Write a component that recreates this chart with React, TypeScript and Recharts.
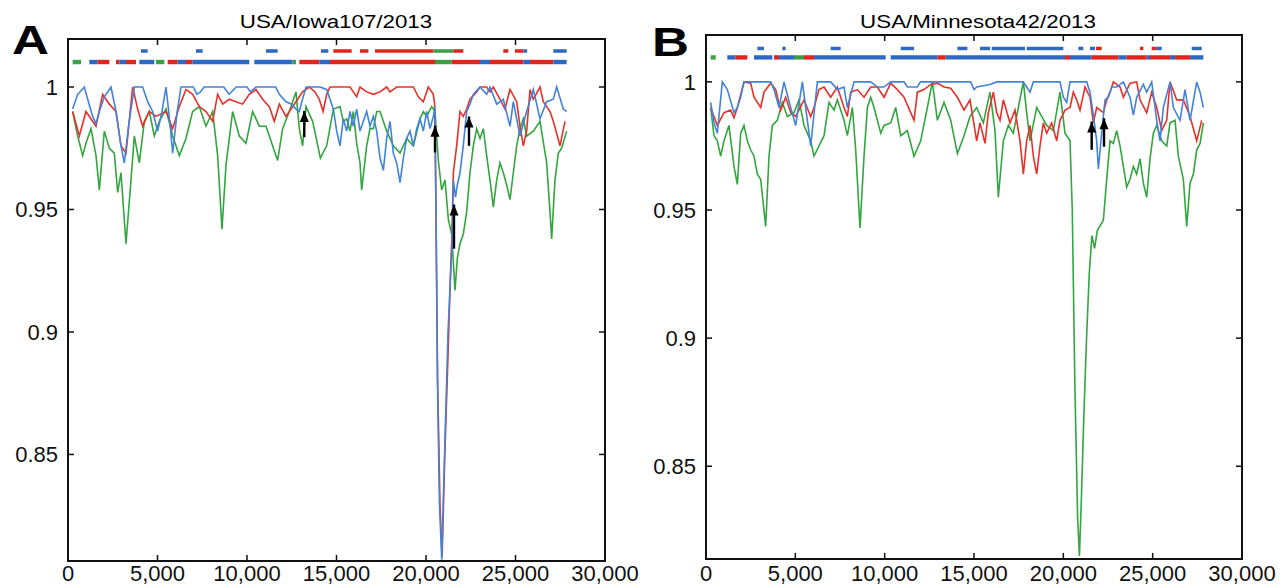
import React from "react";
import {
  LineChart,
  Line,
  XAxis,
  YAxis,
  ReferenceArea,
  ReferenceLine,
  ReferenceDot,
} from "recharts";

type Pt = [number, number];
type Seg = [number, number, "r" | "b" | "g"];

// axis ticks shared by both panels
const xTicks = [0, 5000, 10000, 15000, 20000, 25000, 30000];
const yTicks = [0.85, 0.9, 0.95, 1];

const titleA = "USA/Iowa107/2013";
const titleB = "USA/Minnesota42/2013";

// ---- Panel A: similarity lines [position, similarity]
const blueA: Pt[] = [
  [260, 0.991], [540, 0.997], [912, 1.0], [1100, 0.995], [1378, 0.988], [1564, 0.985], [1750, 0.99],
  [2029, 0.996], [2402, 1.0], [2681, 0.99], [2960, 0.976], [3146, 0.969], [3400, 0.985], [3705, 1.0],
  [4170, 1.0], [4450, 0.994], [4729, 0.99], [5008, 0.982], [5250, 0.99], [5474, 1.0], [5700, 0.985],
  [5846, 0.973], [6100, 0.99], [6312, 1.0], [7000, 1.0], [7200, 0.997], [7400, 0.998], [7600, 1.0],
  [8700, 1.0], [9000, 0.997], [9400, 1.0], [10000, 1.0], [10200, 0.998], [10500, 1.0], [11600, 1.0],
  [11805, 0.997], [12177, 0.994], [12500, 0.993], [12736, 0.991], [12922, 0.99], [13100, 0.995],
  [13300, 1.0], [14079, 1.0], [14451, 0.999], [14824, 0.991], [15010, 0.982], [15196, 0.976],
  [15382, 0.987], [15569, 0.982], [15755, 0.99], [15941, 0.984], [16127, 0.991], [16313, 0.982],
  [16500, 0.986], [16686, 0.99], [16872, 0.984], [17058, 0.988], [17245, 0.982], [17431, 0.971],
  [17617, 0.966], [17803, 0.979], [17989, 0.986], [18175, 0.973], [18362, 0.969], [18548, 0.961],
  [18734, 0.971], [18920, 0.979], [19106, 0.982], [19293, 0.976], [19479, 0.983], [19665, 0.987],
  [19851, 0.982], [20037, 0.99], [20224, 0.983], [20410, 0.988], [20503, 0.992], [20560, 0.95],
  [20640, 0.88], [20750, 0.83], [20880, 0.807], [21000, 0.84], [21230, 0.9], [21450, 0.935],
  [21530, 0.962], [21650, 0.955], [21750, 0.96], [21900, 0.965], [22080, 0.976], [22272, 0.99],
  [22458, 0.993], [22644, 0.997], [23017, 1.0], [23389, 0.997], [23575, 1.0], [23948, 0.993],
  [24320, 0.995], [24692, 0.984], [24879, 0.994], [25251, 0.98], [25623, 0.99], [25996, 0.999],
  [26368, 0.987], [26741, 0.994], [27113, 0.995], [27299, 1.0], [27672, 0.991], [27858, 0.99],
];

const redA: Pt[] = [
  [260, 0.99], [633, 0.98], [1005, 0.99], [1564, 0.984], [1936, 0.997], [2309, 0.993], [2681, 0.99],
  [2960, 0.976], [3240, 0.973], [3612, 1.0], [3891, 0.991], [4170, 0.984], [4543, 0.99], [4915, 0.988],
  [5474, 0.99], [5846, 0.983], [6219, 0.992], [6591, 0.999], [6964, 0.997], [7336, 0.992], [7708, 0.99],
  [8081, 0.986], [8360, 0.997], [8640, 0.993], [9012, 0.995], [9384, 0.994], [9757, 0.993],
  [10129, 0.997], [10501, 0.999], [10874, 0.995], [11246, 0.992], [11526, 0.986], [11805, 0.993],
  [12177, 0.988], [12736, 0.994], [13108, 0.998], [13481, 1.0], [13800, 0.998], [14039, 0.995],
  [14250, 0.99], [14451, 0.997], [14637, 1.0], [15755, 1.0], [15941, 0.998], [16127, 0.996],
  [16313, 1.0], [16686, 0.998], [17058, 0.997], [17431, 0.998], [17803, 1.0], [17989, 0.998],
  [18362, 1.0], [19293, 1.0], [19572, 0.996], [19851, 0.994], [20130, 1.0], [20410, 0.997],
  [20480, 0.993], [20540, 0.96], [20650, 0.88], [20780, 0.83], [20900, 0.808], [21050, 0.85],
  [21250, 0.895], [21350, 0.92], [21450, 0.94], [21527, 0.965], [21713, 0.976], [21899, 0.99],
  [22086, 0.988], [22272, 0.991], [22458, 0.995], [22830, 0.998], [23017, 1.0], [23389, 1.0],
  [23575, 0.998], [23761, 1.0], [24134, 0.995], [24413, 0.991], [24692, 0.999], [25065, 0.994],
  [25251, 0.984], [25437, 0.976], [25623, 0.982], [25810, 0.999], [25996, 0.995], [26368, 1.0],
  [26555, 0.994], [26927, 0.99], [27113, 0.986], [27485, 0.976], [27765, 0.986],
];

const greenA: Pt[] = [
  [260, 0.99], [540, 0.98], [819, 0.972], [1005, 0.977], [1285, 0.983], [1564, 0.972], [1750, 0.958],
  [2029, 0.982], [2309, 0.975], [2588, 0.973], [2774, 0.957], [2960, 0.965], [3240, 0.936],
  [3519, 0.962], [3705, 0.98], [3984, 0.969], [4264, 0.986], [4543, 0.99], [4822, 0.98], [5102, 0.986],
  [5474, 0.991], [5846, 0.98], [6219, 0.972], [6591, 0.979], [6964, 0.99], [7336, 0.992], [7708, 0.984],
  [8081, 0.99], [8360, 0.972], [8602, 0.942], [8826, 0.968], [9198, 0.99], [9570, 0.98], [9943, 0.977],
  [10315, 0.99], [10688, 0.984], [11060, 0.984], [11432, 0.976], [11712, 0.97], [11991, 0.983],
  [12363, 0.99], [12736, 0.998], [12922, 0.983], [13108, 0.976], [13294, 0.992], [13667, 0.986],
  [14100, 0.971], [14451, 0.976], [14824, 0.991], [15196, 0.992], [15382, 0.986], [15569, 0.987],
  [15755, 0.982], [15941, 0.99], [16127, 0.977], [16313, 0.969], [16406, 0.958], [16686, 0.976],
  [16872, 0.983], [17058, 0.983], [17245, 0.99], [17431, 0.99], [17617, 0.986], [17803, 0.982],
  [18175, 0.976], [18548, 0.973], [18920, 0.979], [19293, 0.976], [19665, 0.987], [19851, 0.99],
  [20037, 0.988], [20317, 0.992], [20503, 0.99], [20689, 0.97], [20875, 0.958], [21062, 0.962],
  [21248, 0.946], [21434, 0.94], [21620, 0.917], [21750, 0.93], [21899, 0.936], [22086, 0.94],
  [22272, 0.949], [22458, 0.965], [22644, 0.976], [22830, 0.983], [23017, 0.979], [23203, 0.983],
  [23389, 0.972], [23575, 0.962], [23761, 0.951], [23948, 0.962], [24134, 0.969], [24320, 0.965],
  [24506, 0.96], [24692, 0.954], [24879, 0.965], [25065, 0.976], [25251, 0.983], [25437, 0.987],
  [25623, 0.98], [25996, 0.982], [26368, 0.986], [26741, 0.969], [26927, 0.949], [27020, 0.938],
  [27206, 0.962], [27392, 0.973], [27579, 0.975], [27858, 0.982],
];

// ---- Panel B
const blueB: Pt[] = [
  [261, 0.992], [448, 0.984], [634, 0.98], [914, 1.0], [1194, 0.997], [1567, 0.988], [1754, 0.99],
  [1941, 0.994], [2127, 1.0], [3620, 1.0], [3807, 0.997], [4086, 0.99], [4366, 1.0], [4740, 0.99],
  [5020, 0.983], [5393, 1.0], [5673, 0.985], [5859, 0.975], [6232, 1.0], [6979, 1.0], [7352, 0.997],
  [7725, 0.998], [7912, 0.99], [8285, 1.0], [9218, 1.0], [9591, 0.998], [9964, 0.998], [10338, 1.0],
  [11084, 1.0], [11270, 0.998], [11830, 0.998], [12000, 1.0], [14816, 1.0], [15003, 0.997],
  [15149, 0.998], [15896, 0.999], [16269, 1.0], [17762, 1.0], [17948, 0.998], [18135, 0.996],
  [18322, 1.0], [19814, 1.0], [20001, 0.994], [20187, 0.992], [20374, 1.0], [21307, 1.0],
  [21494, 0.996], [21680, 0.987], [21867, 0.977], [21960, 0.966], [22147, 0.98], [22333, 0.993],
  [22520, 0.994], [22707, 0.998], [22986, 0.998], [23360, 1.0], [23733, 0.994], [23920, 0.987],
  [24106, 0.994], [24479, 0.999], [24666, 0.996], [24946, 1.0], [25226, 0.985], [25412, 0.977],
  [25599, 0.99], [25972, 1.0], [26159, 0.99], [26532, 0.985], [26811, 0.997], [27092, 0.985],
  [27465, 1.0], [27652, 0.996], [27838, 0.99],
];

const redB: Pt[] = [
  [261, 0.99], [634, 0.983], [1008, 0.988], [1381, 0.989], [1567, 0.986], [1754, 0.99], [2127, 1.0],
  [2500, 0.9995], [2687, 0.994], [3060, 0.99], [3247, 0.996], [3620, 0.9995], [3900, 0.997],
  [4180, 0.989], [4459, 0.994], [4740, 0.988], [5020, 0.9865], [5486, 0.993], [5859, 0.9865],
  [6046, 0.99], [6326, 0.997], [6606, 0.998], [6979, 0.994], [7352, 0.998], [7725, 0.99],
  [7912, 0.9865], [8098, 0.996], [8472, 0.997], [8845, 0.994], [9218, 0.998], [9591, 0.998],
  [9964, 0.994], [10338, 0.9995], [10711, 0.997], [11084, 0.994], [11457, 0.988], [11644, 0.985],
  [11830, 0.996], [12204, 0.997], [12577, 0.999], [12950, 0.9995], [13323, 0.998], [13697, 0.9975],
  [14070, 0.994], [14443, 0.989], [14776, 0.993], [14963, 0.985], [15149, 0.977], [15336, 0.984],
  [15616, 0.976], [15802, 0.988], [16082, 0.996], [16269, 0.988], [16456, 0.985], [16642, 0.993],
  [17015, 0.984], [17295, 0.989], [17575, 0.977], [17762, 0.964], [17948, 0.977], [18135, 0.983],
  [18322, 0.971], [18508, 0.964], [18695, 0.975], [18881, 0.984], [19068, 0.98], [19348, 0.984],
  [19628, 0.977], [19814, 0.985], [20094, 0.989], [20374, 0.99], [20561, 0.996], [20747, 0.993],
  [20934, 0.989], [21214, 0.998], [21494, 0.994], [21680, 0.984], [21867, 0.99], [22054, 0.989],
  [22240, 0.988], [22427, 0.993], [22613, 0.996], [22800, 1.0], [23173, 0.998], [23360, 0.994],
  [23733, 0.9995], [24106, 1.0], [24293, 0.993], [24666, 0.988], [24946, 0.996], [25226, 0.99],
  [25506, 0.981], [25786, 0.985], [25972, 1.0], [26345, 0.993], [26718, 0.993], [27092, 0.9865],
  [27465, 0.977], [27745, 0.985],
];

const greenB: Pt[] = [
  [261, 0.99], [448, 0.979], [634, 0.977], [821, 0.971], [1008, 0.977], [1287, 0.983], [1567, 0.967],
  [1754, 0.96], [1941, 0.98], [2127, 0.983], [2314, 0.977], [2500, 0.9735], [2687, 0.971],
  [2874, 0.964], [3060, 0.962], [3340, 0.9436], [3527, 0.971], [3713, 0.983], [3993, 0.985],
  [4273, 0.992], [4553, 0.9865], [4926, 0.988], [5206, 0.993], [5486, 0.983], [5859, 0.977],
  [6046, 0.971], [6326, 0.975], [6606, 0.979], [6886, 0.992], [7166, 0.989], [7352, 0.993],
  [7725, 0.985], [7912, 0.979], [8192, 0.99], [8378, 0.9735], [8621, 0.943], [8845, 0.971],
  [9032, 0.99], [9218, 0.994], [9405, 0.99], [9778, 0.98], [9964, 0.983], [10338, 0.984],
  [10618, 0.99], [10898, 0.979], [11271, 0.981], [11644, 0.971], [12017, 0.977], [12390, 0.99],
  [12670, 1.0], [12950, 0.985], [13323, 0.992], [13697, 0.985], [14070, 0.972], [14443, 0.979],
  [14776, 0.9865], [15149, 0.99], [15522, 0.984], [15896, 0.996], [16176, 0.981], [16362, 0.955],
  [16642, 0.977], [16922, 0.983], [17202, 0.98], [17482, 0.99], [17762, 1.0], [17948, 0.988],
  [18135, 0.977], [18508, 0.99], [18788, 0.9865], [19068, 0.983], [19441, 0.981], [19814, 0.996],
  [20094, 0.98], [20374, 0.977], [20500, 0.95], [20650, 0.88], [20800, 0.83], [20900, 0.815],
  [21000, 0.835], [21150, 0.87], [21300, 0.9], [21450, 0.925], [21600, 0.94], [21750, 0.935],
  [21900, 0.942], [22240, 0.946], [22427, 0.962], [22613, 0.977], [22800, 0.976], [22986, 0.981],
  [23173, 0.975], [23360, 0.967], [23546, 0.959], [23733, 0.962], [23920, 0.967], [24106, 0.964],
  [24293, 0.97], [24479, 0.9605], [24666, 0.955], [24852, 0.97], [25039, 0.98], [25226, 0.983],
  [25506, 0.977], [25786, 0.975], [25972, 0.984], [26252, 0.985], [26438, 0.971], [26718, 0.962],
  [26905, 0.9436], [27092, 0.9605], [27278, 0.964], [27465, 0.9735], [27652, 0.976], [27838, 0.984],
];

// ---- top indicator bars [start, end, colour]
const lowerBarsA: Seg[] = [
  [260, 726, "g"], [1192, 1657, "b"], [1657, 2309, "r"], [2681, 2867, "r"], [2867, 3240, "b"],
  [3240, 3800, "r"], [3984, 4822, "b"], [4915, 5380, "g"], [5567, 6126, "r"], [6126, 6591, "b"],
  [6591, 6964, "r"], [6964, 10129, "b"], [10408, 12550, "b"], [12550, 12736, "g"], [12922, 14039, "r"],
  [14039, 14637, "b"], [14637, 20503, "r"], [20503, 21434, "g"], [21434, 23017, "r"], [23017, 23575, "b"],
  [23575, 25437, "r"], [25437, 25810, "b"], [25810, 27113, "r"], [27113, 27858, "b"],
];
const upperBarsA: Seg[] = [
  [4077, 4450, "b"], [7150, 7522, "b"], [11060, 11712, "b"], [14132, 14545, "b"], [14824, 15848, "r"],
  [16313, 16779, "r"], [17151, 20410, "r"], [20410, 21527, "g"], [21527, 22086, "r"], [24320, 24600, "r"],
  [24972, 25437, "r"], [25437, 25650, "b"], [27113, 27858, "b"],
];
const lowerBarsB: Seg[] = [
  [261, 541, "g"], [1194, 1661, "b"], [1661, 2314, "r"], [2687, 3713, "b"], [3806, 4086, "r"],
  [4086, 4926, "b"], [4926, 5486, "g"], [5486, 6046, "r"], [6046, 10058, "b"], [10338, 12950, "b"],
  [12950, 13417, "r"], [13417, 20094, "b"], [20094, 20374, "r"], [20374, 21587, "b"], [21587, 23080, "r"],
  [23080, 23546, "b"], [23546, 24666, "r"], [24666, 24852, "b"], [24852, 25972, "r"], [25972, 26252, "b"],
  [26252, 27092, "r"], [27092, 27838, "b"],
];
const upperBarsB: Seg[] = [
  [2874, 3247, "b"], [4273, 4459, "b"], [6979, 7538, "b"], [10898, 11644, "b"], [14070, 14630, "b"],
  [15336, 15896, "b"], [15989, 17855, "b"], [17948, 20001, "b"], [20841, 21120, "b"], [21494, 21773, "b"],
  [21830, 22147, "r"], [24293, 24479, "r"], [24946, 25226, "r"], [25226, 25506, "b"], [27185, 27745, "b"],
];

// ---- arrows [position, head, tail]
const arrowsA: [number, number, number][] = [
  [13200, 0.9902, 0.9795], [20503, 0.9842, 0.9733], [21564, 0.952, 0.934], [22402, 0.988, 0.976],
];
const arrowsB: [number, number, number][] = [
  [21587, 0.9845, 0.9735], [22277, 0.9858, 0.9747],
];

const LINE = { r: "#e8302a", b: "#4383d8", g: "#33a63f" };
const BAR = { r: "#e3231d", b: "#2c68c4", g: "#3aa048" };
const FONT = "'Liberation Sans', Arial, sans-serif";
const X_MAX = 30000;

const rows = (pts: Pt[]) => pts.map(([x, y]) => ({ x, y }));

const ArrowHead = (p: any) => (
  <path d={`M${p.cx},${p.cy} L${p.cx - 4.5},${p.cy + 11} L${p.cx + 4.5},${p.cy + 11} Z`} fill="#000" />
);

function Panel(props: any) {
  const { width, margin, yDomain, green, red, blue, lower, upper, lowerY, upperY, halfH, arrows, xMargin, plotH } = props;
  const [y0, y1] = yDomain;
  // inner tick length of ~6px expressed in each axis' units
  const xLen = (X_MAX * 6) / (width - margin.left - margin.right - 60);
  const yLen = ((y1 - y0) * 6) / plotH;
  const axisLine = { stroke: "#111", strokeWidth: 2 };
  const tickLine = { stroke: "#111", strokeWidth: 1.5 };
  const tickStyle = { fill: "#111", fontSize: 22, fontFamily: FONT };
  return (
    <LineChart width={width} height={587} margin={margin}>
      <XAxis
        dataKey="x" type="number" domain={[0, X_MAX]} ticks={xTicks} allowDataOverflow interval={0}
        height={20} tickSize={-6} tickMargin={xMargin} axisLine={axisLine} tickLine={tickLine} tick={tickStyle}
        tickFormatter={(v: number) => v.toLocaleString("en-US")}
      />
      <YAxis
        type="number" domain={yDomain} ticks={yTicks} allowDataOverflow interval={0} width={60}
        tickSize={-6} tickMargin={16} axisLine={axisLine} tickLine={tickLine} tick={tickStyle}
      />
      {lower.map(([a, b, c]: Seg, i: number) => (
        <ReferenceArea key={`l${i}`} x1={a} x2={b} y1={lowerY - halfH} y2={lowerY + halfH}
          fill={BAR[c]} fillOpacity={1} stroke="none" ifOverflow="visible" />
      ))}
      {upper.map(([a, b, c]: Seg, i: number) => (
        <ReferenceArea key={`u${i}`} x1={a} x2={b} y1={upperY - halfH * 0.8} y2={upperY + halfH * 0.8}
          fill={BAR[c]} fillOpacity={1} stroke="none" ifOverflow="visible" />
      ))}
      <ReferenceArea x1={0} x2={X_MAX} y1={y0} y2={y1} fill="none" fillOpacity={0}
        stroke="#111" strokeWidth={2} ifOverflow="visible" />
      {xTicks.slice(1, -1).map((t) => (
        <ReferenceLine key={`tt${t}`} segment={[{ x: t, y: y1 }, { x: t, y: y1 - yLen }]}
          stroke="#111" strokeWidth={1.5} ifOverflow="visible" />
      ))}
      {yTicks.map((t) => (
        <ReferenceLine key={`rt${t}`} segment={[{ x: X_MAX, y: t }, { x: X_MAX - xLen, y: t }]}
          stroke="#111" strokeWidth={1.5} ifOverflow="visible" />
      ))}
      <Line data={rows(green)} dataKey="y" type="linear" stroke={LINE.g} strokeWidth={1.6} dot={false} isAnimationActive={false} />
      <Line data={rows(red)} dataKey="y" type="linear" stroke={LINE.r} strokeWidth={1.6} dot={false} isAnimationActive={false} />
      <Line data={rows(blue)} dataKey="y" type="linear" stroke={LINE.b} strokeWidth={1.6} dot={false} isAnimationActive={false} />
      {arrows.map(([x, h, t]: number[], i: number) => (
        <ReferenceLine key={`as${i}`} segment={[{ x, y: t }, { x, y: h }]} stroke="#000" strokeWidth={2.4} ifOverflow="visible" />
      ))}
      {arrows.map(([x, h]: number[], i: number) => (
        <ReferenceDot key={`ah${i}`} x={x} y={h} r={0} shape={ArrowHead} ifOverflow="visible" />
      ))}
    </LineChart>
  );
}

const abs = (s: React.CSSProperties): React.CSSProperties => ({ position: "absolute", ...s });

export default function App() {
  return (
    <div style={abs({ left: 0, top: 0, width: 1286, height: 587, background: "#fff", fontFamily: FONT })}>
      <div style={abs({ left: 0, top: 0 })}>
        <Panel
          width={645}
          margin={{ top: 39, right: 40, bottom: 6, left: 8 }}
          plotH={522}
          yDomain={[0.8065, 1.0196]}
          green={greenA} red={redA} blue={blueA}
          lower={lowerBarsA} upper={upperBarsA}
          lowerY={1.0102} upperY={1.0147} halfH={0.0009}
          arrows={arrowsA} xMargin={10}
        />
      </div>
      <div style={abs({ left: 641, top: 0 })}>
        <Panel
          width={645}
          margin={{ top: 35, right: 44, bottom: 8, left: 5 }}
          plotH={524}
          yDomain={[0.8138, 1.0183]}
          green={greenB} red={redB} blue={blueB}
          lower={lowerBarsB} upper={upperBarsB}
          lowerY={1.00955} upperY={1.01305} halfH={0.00085}
          arrows={arrowsB} xMargin={12}
        />
      </div>
      <div style={abs({ left: 336, top: 13, fontSize: 18, lineHeight: 1, whiteSpace: "nowrap", transform: "translateX(-50%) scaleX(1.24)" })}>
        {titleA}
      </div>
      <div style={abs({ left: 978, top: 13, fontSize: 18, lineHeight: 1, whiteSpace: "nowrap", transform: "translateX(-50%) scaleX(1.24)" })}>
        {titleB}
      </div>
      <div style={abs({ left: 12, top: 20, fontSize: 40, fontWeight: 700, lineHeight: 1, transform: "scaleX(1.28)", transformOrigin: "left top" })}>
        A
      </div>
      <div style={abs({ left: 652, top: 22, fontSize: 40, fontWeight: 700, lineHeight: 1, transform: "scaleX(1.28)", transformOrigin: "left top" })}>
        B
      </div>
    </div>
  );
}
